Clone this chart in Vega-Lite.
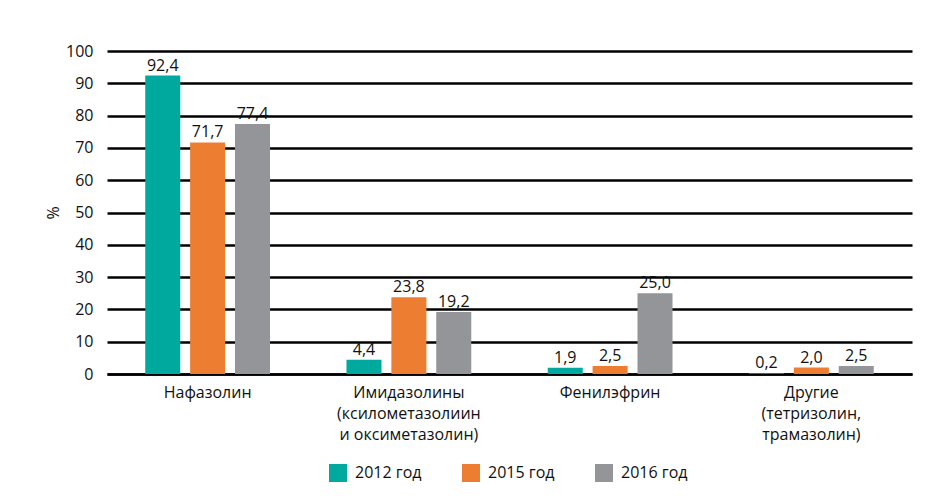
{
  "$schema": "https://vega.github.io/schema/vega-lite/v6.json",
  "autosize": "none",
  "padding": {"left": 107, "top": 51, "right": 18, "bottom": 128},
  "width": 805,
  "height": 323,
  "background": "white",
  "config": {
    "font": "Open Sans",
    "view": {"stroke": null},
    "axis": {"labelFont": "Open Sans", "titleFont": "Open Sans"}
  },
  "data": {
    "values": [
      {"drug": "Нафазолин", "year": "2012 год", "value": 92.4, "label": "92,4"},
      {"drug": "Нафазолин", "year": "2015 год", "value": 71.7, "label": "71,7"},
      {"drug": "Нафазолин", "year": "2016 год", "value": 77.4, "label": "77,4"},
      {"drug": "Имидазолины|(ксилометазолиин|и оксиметазолин)", "year": "2012 год", "value": 4.4, "label": "4,4"},
      {"drug": "Имидазолины|(ксилометазолиин|и оксиметазолин)", "year": "2015 год", "value": 23.8, "label": "23,8"},
      {"drug": "Имидазолины|(ксилометазолиин|и оксиметазолин)", "year": "2016 год", "value": 19.2, "label": "19,2"},
      {"drug": "Фенилэфрин", "year": "2012 год", "value": 1.9, "label": "1,9"},
      {"drug": "Фенилэфрин", "year": "2015 год", "value": 2.5, "label": "2,5"},
      {"drug": "Фенилэфрин", "year": "2016 год", "value": 25.0, "label": "25,0"},
      {"drug": "Другие|(тетризолин,|трамазолин)", "year": "2012 год", "value": 0.2, "label": "0,2"},
      {"drug": "Другие|(тетризолин,|трамазолин)", "year": "2015 год", "value": 2.0, "label": "2,0"},
      {"drug": "Другие|(тетризолин,|трамазолин)", "year": "2016 год", "value": 2.5, "label": "2,5"}
    ]
  },
  "encoding": {
    "x": {
      "field": "drug",
      "type": "nominal",
      "sort": null,
      "scale": {"paddingInner": 0.38, "paddingOuter": 0.19},
      "axis": {
        "title": null,
        "labelAngle": 0,
        "labelExpr": "split(datum.label, '|')",
        "labelFontSize": 16,
        "labelColor": "#111111",
        "labelPadding": 10,
        "labelLineHeight": 21,
        "labelBaseline": "top",
        "ticks": false,
        "domain": true,
        "domainColor": "black",
        "domainWidth": 2.5,
        "labelLimit": 300
      }
    },
    "xOffset": {
      "field": "year",
      "type": "nominal",
      "scale": {"paddingInner": 0.22, "paddingOuter": 0}
    },
    "y": {
      "field": "value",
      "type": "quantitative",
      "scale": {"domain": [0, 100], "nice": false},
      "axis": {
        "title": "%",
        "titleFontSize": 16,
        "titleFontWeight": "normal",
        "titleColor": "#111111",
        "titlePadding": 4,
        "values": [0, 10, 20, 30, 40, 50, 60, 70, 80, 90, 100],
        "labelFontSize": 16,
        "labelColor": "#111111",
        "labelPadding": 14,
        "ticks": false,
        "domain": false,
        "grid": true,
        "gridColor": "black",
        "gridWidth": 2.5,
        "gridOpacity": 1
      }
    }
  },
  "layer": [
    {
      "mark": {"type": "bar"},
      "encoding": {
        "color": {
          "field": "year",
          "type": "nominal",
          "scale": {"domain": ["2012 год", "2015 год", "2016 год"], "range": ["#00A99D", "#ED7D31", "#939598"]},
          "legend": {
            "title": null,
            "orient": "none",
            "direction": "horizontal",
            "legendX": 222,
            "legendY": 413,
            "symbolType": "square",
            "symbolSize": 324,
            "symbolStrokeWidth": 0,
            "symbolOpacity": 1,
            "labelFontSize": 16,
            "labelColor": "#111111",
            "labelOffset": 8,
            "columnPadding": 40
          }
        }
      }
    },
    {
      "mark": {"type": "text", "baseline": "bottom", "dy": -2, "fontSize": 16, "color": "#111111"},
      "encoding": {"text": {"field": "label"}}
    }
  ]
}
